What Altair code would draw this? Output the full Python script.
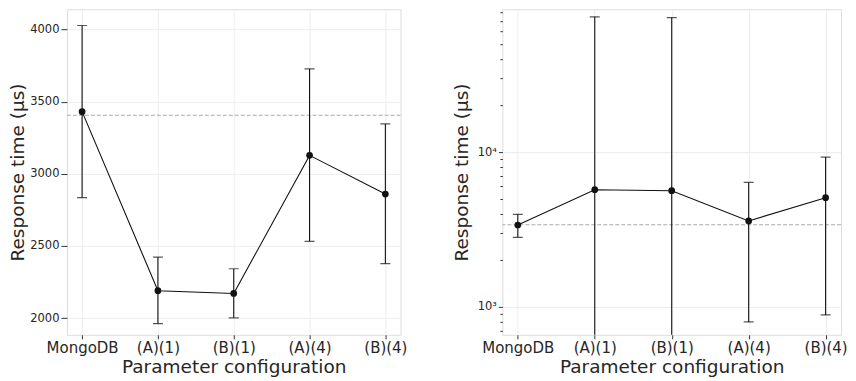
import altair as alt
import pandas as pd

configs = ["MongoDB", "(A)(1)", "(B)(1)", "(A)(4)", "(B)(4)"]

# Left panel (linear scale)
left_mean = [3431, 2190, 2171, 3128, 2860]
left_low = [2835, 1961, 2002, 2532, 2377]
left_high = [4028, 2423, 2342, 3727, 3346]
left_ref = 3406
left_ticks = [2000, 2500, 3000, 3500, 4000]

# Right panel (log scale)
right_mean = [3380, 5714, 5630, 3589, 5074]
right_low = [2814, 100, 100, 800, 888]
right_high = [3963, 74700, 73900, 6370, 9286]
right_ref = 3390
right_ticks = [700, 800, 900, 1000, 2000, 3000, 4000, 5000, 6000, 7000, 8000, 9000,
               10000, 20000, 30000, 40000, 50000, 60000, 70000, 80000]

FONT = "DejaVu Sans"
TXT = "#262626"
BLACK = "#111111"

left_df = pd.DataFrame({"config": configs, "mean": left_mean, "low": left_low, "high": left_high})
right_df = pd.DataFrame({"config": configs, "mean": right_mean, "low": right_low, "high": right_high})

xenc_axis = alt.Axis(title="Parameter configuration", labelFont=FONT, titleFont=FONT,
                     labelFontSize=15, titleFontSize=18.5, labelColor=TXT, titleColor=TXT,
                     labelAngle=0, tickSize=4, labelPadding=2, titlePadding=2,
                     tickColor="#333333", domain=False, gridColor="#ededed", grid=True,
                     titleFontWeight="normal")


def panel(df, ref, yscale, yaxis, width, height):
    x = alt.X("config:N", sort=configs, scale=alt.Scale(type="point", padding=0.2), axis=xenc_axis)
    base = alt.Chart(df)
    line = base.mark_line(color=BLACK, strokeWidth=1.1, clip=True).encode(
        x=x, y=alt.Y("mean:Q", scale=yscale, axis=yaxis))
    rule = base.mark_rule(color=BLACK, strokeWidth=1.1, clip=True).encode(
        x=x, y=alt.Y("low:Q", scale=yscale), y2="high:Q")
    cap_lo = base.mark_tick(color=BLACK, size=10, thickness=1.2, clip=True).encode(
        x=x, y=alt.Y("low:Q", scale=yscale))
    cap_hi = base.mark_tick(color=BLACK, size=10, thickness=1.2, clip=True).encode(
        x=x, y=alt.Y("high:Q", scale=yscale))
    pts = base.mark_circle(color=BLACK, size=45, opacity=1).encode(
        x=x, y=alt.Y("mean:Q", scale=yscale))
    refl = alt.Chart(pd.DataFrame({"ref": [ref]})).mark_rule(
        color="#aaaaaa", strokeDash=[4, 2], strokeWidth=1.1).encode(y=alt.Y("ref:Q", scale=yscale))
    return alt.layer(refl, line, rule, cap_lo, cap_hi, pts).properties(width=width, height=height)


left_axis = alt.Axis(title="Response time (μs)", values=left_ticks, format="d", labelFont=FONT,
                     titleFont=FONT, labelFontSize=11.5, titleFontSize=18.5, labelColor=TXT,
                     titleColor=TXT, tickSize=6, labelPadding=2, titlePadding=2,
                     tickColor="#333333", domain=False, gridColor="#ededed",
                     titleFontWeight="normal")
left_scale = alt.Scale(domain=[1884, 4141], zero=False, nice=False)

major_test = "datum.value == 1000 || datum.value == 10000"
right_axis = alt.Axis(title="Response time (μs)", values=right_ticks, labelFont=FONT, titleFont=FONT,
                      labelFontSize=11.5, titleFontSize=18.5, labelColor=TXT, titleColor=TXT,
                      labelExpr="datum.value == 1000 ? '10³' : datum.value == 10000 ? '10⁴' : ''",
                      tickSize={"condition": {"test": major_test, "value": 4}, "value": 2.5},
                      gridOpacity={"condition": {"test": major_test, "value": 1}, "value": 0},
                      labelPadding=2, titlePadding=6, tickColor="#333333",
                      domain=False, gridColor="#ededed", titleFontWeight="normal")
right_scale = alt.Scale(type="log", domain=[660, 83670], nice=False)

left = panel(left_df, left_ref, left_scale, left_axis, 334, 326)
right = panel(right_df, right_ref, right_scale, right_axis, 339, 326)

chart = alt.hconcat(left, right, spacing=44).configure_view(
    stroke="#444444", strokeWidth=1.6
).configure(padding=0)

chart.save("out.html", embed_options={"renderer": "svg", "actions": False})
